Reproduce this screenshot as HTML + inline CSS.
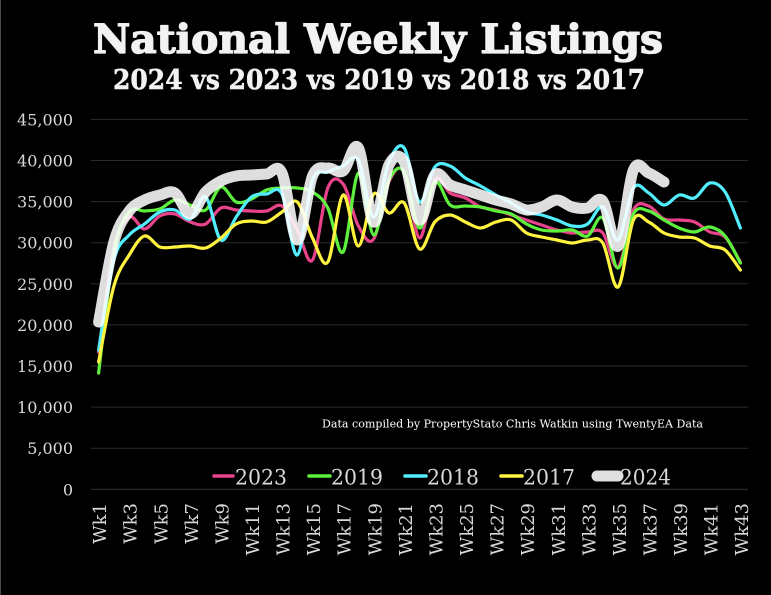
<!DOCTYPE html>
<html>
<head>
<meta charset="utf-8">
<style>
  html,body{margin:0;padding:0;background:#000;}
  body{width:771px;height:595px;overflow:hidden;}
  svg{display:block;}
  .tick{font-family:"DejaVu Serif","Liberation Serif",serif;font-size:16px;fill:#d9d9d9;}
  .xl{font-family:"DejaVu Serif","Liberation Serif",serif;font-size:18px;fill:#d9d9d9;}
  .lg{font-family:"DejaVu Serif","Liberation Serif",serif;font-size:21px;fill:#d9d9d9;}
</style>
</head>
<body>
<svg id="chart" width="771" height="595" viewBox="0 0 771 595" xmlns="http://www.w3.org/2000/svg">
  <rect x="0" y="0" width="771" height="595" fill="#000"/>
  <line x1="0.5" y1="0" x2="0.5" y2="595" stroke="#4a4a4a" stroke-width="1"/>

  <!-- Title -->
  <text x="93" y="53" textLength="570" lengthAdjust="spacingAndGlyphs" font-family="'DejaVu Serif','Liberation Serif',serif" font-weight="bold" font-size="40" fill="#f2f2f2" stroke="#f2f2f2" stroke-width="1.3" stroke-linejoin="round">National Weekly Listings</text>
  <text x="113" y="89" textLength="532" lengthAdjust="spacingAndGlyphs" font-family="'DejaVu Serif','Liberation Serif',serif" font-weight="bold" font-size="27" fill="#f2f2f2" stroke="#f2f2f2" stroke-width="0.5" stroke-linejoin="round">2024 vs 2023 vs 2019 vs 2018 vs 2017</text>

  <!-- Gridlines -->
  <g stroke="#2b2b2b" stroke-width="1">
    <line x1="91" x2="748" y1="119.4" y2="119.4"/>
    <line x1="91" x2="748" y1="160.5" y2="160.5"/>
    <line x1="91" x2="748" y1="201.6" y2="201.6"/>
    <line x1="91" x2="748" y1="242.7" y2="242.7"/>
    <line x1="91" x2="748" y1="283.8" y2="283.8"/>
    <line x1="91" x2="748" y1="324.9" y2="324.9"/>
    <line x1="91" x2="748" y1="366.0" y2="366.0"/>
    <line x1="91" x2="748" y1="407.1" y2="407.1"/>
    <line x1="91" x2="748" y1="448.2" y2="448.2"/>
    <line x1="91" x2="748" y1="489.3" y2="489.3" stroke="#333"/>
  </g>

  <!-- Y tick labels -->
  <g class="tick" text-anchor="end">
    <text x="73" y="125.4">45,000</text>
    <text x="73" y="166.5">40,000</text>
    <text x="73" y="207.6">35,000</text>
    <text x="73" y="248.7">30,000</text>
    <text x="73" y="289.8">25,000</text>
    <text x="73" y="330.9">20,000</text>
    <text x="73" y="372.0">15,000</text>
    <text x="73" y="413.1">10,000</text>
    <text x="73" y="454.2">5,000</text>
    <text x="73" y="495.3">0</text>
  </g>

  <!-- X labels -->
  <g class="xl" text-anchor="end">
    <text transform="translate(106.1,503) rotate(-90)">Wk1</text>
    <text transform="translate(136.7,503) rotate(-90)">Wk3</text>
    <text transform="translate(167.3,503) rotate(-90)">Wk5</text>
    <text transform="translate(197.8,503) rotate(-90)">Wk7</text>
    <text transform="translate(228.4,503) rotate(-90)">Wk9</text>
    <text transform="translate(259.0,503) rotate(-90)">Wk11</text>
    <text transform="translate(289.6,503) rotate(-90)">Wk13</text>
    <text transform="translate(320.1,503) rotate(-90)">Wk15</text>
    <text transform="translate(350.7,503) rotate(-90)">Wk17</text>
    <text transform="translate(381.3,503) rotate(-90)">Wk19</text>
    <text transform="translate(411.9,503) rotate(-90)">Wk21</text>
    <text transform="translate(442.5,503) rotate(-90)">Wk23</text>
    <text transform="translate(473.0,503) rotate(-90)">Wk25</text>
    <text transform="translate(503.6,503) rotate(-90)">Wk27</text>
    <text transform="translate(534.2,503) rotate(-90)">Wk29</text>
    <text transform="translate(564.8,503) rotate(-90)">Wk31</text>
    <text transform="translate(595.3,503) rotate(-90)">Wk33</text>
    <text transform="translate(625.9,503) rotate(-90)">Wk35</text>
    <text transform="translate(656.5,503) rotate(-90)">Wk37</text>
    <text transform="translate(687.1,503) rotate(-90)">Wk39</text>
    <text transform="translate(717.6,503) rotate(-90)">Wk41</text>
    <text transform="translate(748.2,503) rotate(-90)">Wk43</text>
  </g>

  <!-- Series -->
  <g fill="none" stroke-linecap="round" stroke-linejoin="round">
    <path id="s2023" stroke="#e8438a" stroke-width="3.2"/>
    <path id="s2019" stroke="#5df03c" stroke-width="3.2"/>
    <path id="s2018" stroke="#52eeff" stroke-width="3.2"/>
    <path id="s2017" stroke="#fff33f" stroke-width="3.2"/>
    <path id="s2024" stroke="#ffffff" stroke-opacity="0.87" stroke-width="11"/>
  </g>

  <!-- Source note -->
  <text x="322" y="427.5" textLength="381" lengthAdjust="spacingAndGlyphs" font-family="'DejaVu Serif','Liberation Serif',serif" font-size="11.5" fill="#ffffff">Data compiled by PropertyStato Chris Watkin using TwentyEA Data</text>

  <!-- Legend -->
  <g>
    <line x1="214" y1="476" x2="233" y2="476" stroke="#e8438a" stroke-width="3.6" stroke-linecap="round"/>
    <text class="lg" x="235" y="484.3" textLength="52" lengthAdjust="spacingAndGlyphs">2023</text>
    <line x1="309" y1="476" x2="330" y2="476" stroke="#5df03c" stroke-width="3.6" stroke-linecap="round"/>
    <text class="lg" x="331" y="484.3" textLength="52" lengthAdjust="spacingAndGlyphs">2019</text>
    <line x1="405" y1="476" x2="426" y2="476" stroke="#52eeff" stroke-width="3.6" stroke-linecap="round"/>
    <text class="lg" x="427" y="484.3" textLength="52" lengthAdjust="spacingAndGlyphs">2018</text>
    <line x1="501" y1="476" x2="522" y2="476" stroke="#fff33f" stroke-width="3.6" stroke-linecap="round"/>
    <text class="lg" x="523" y="484.3" textLength="52" lengthAdjust="spacingAndGlyphs">2017</text>
    <line x1="597" y1="476" x2="618" y2="476" stroke="#e0e0e0" stroke-width="11" stroke-linecap="round"/>
    <text class="lg" x="620" y="484.3" textLength="51" lengthAdjust="spacingAndGlyphs">2024</text>
  </g>
</svg>
<script>
(function(){
  var W = 657/43, X0 = 91;
  var data = {
    s2024:[322,242,211,200,195,193,214,192,181,176,175,174,173,240,176,168,171,148,222,165,162,220,175,185,190,195,200,204,210,207,200,207,208,201,246,170,173,182],
    s2023:[352,248,217,229,216,214,222,224,208,210,211,211,206,230,260,188,184,226,239,182,172,238,180,193,198,207,210,215,220,225,230,233,232,233,267,210,206,219,220,222,232,237,262],
    s2019:[373,252,212,211,209,200,205,210,187,202,199,190,188,188,192,208,252,173,235,180,172,228,182,205,206,207,211,214,224,230,231,230,236,218,268,214,211,220,228,232,227,236,263],
    s2018:[350,260,235,224,212,210,219,197,240,217,197,194,194,255,180,172,166,160,217,162,148,202,167,166,178,186,195,203,212,215,220,226,224,207,240,188,193,205,195,198,183,192,228],
    s2017:[362,286,255,236,247,247,246,248,238,224,221,222,212,202,238,262,195,246,194,213,203,249,222,215,222,228,222,220,233,237,240,243,240,243,287,220,222,233,237,238,246,250,270]
  };
  function f(n){return n.toFixed(1);}
  function build(ys){
    var p = ys.map(function(y,i){return [X0 + W*(i+0.5), y];});
    var d = 'M'+f(p[0][0])+','+f(p[0][1]);
    for (var i=0;i<p.length-1;i++){
      var p0 = p[i-1]||p[i], p1=p[i], p2=p[i+1], p3=p[i+2]||p[i+1];
      var c1x = p1[0]+(p2[0]-p0[0])/6, c1y = p1[1]+(p2[1]-p0[1])/6;
      var c2x = p2[0]-(p3[0]-p1[0])/6, c2y = p2[1]-(p3[1]-p1[1])/6;
      d += 'C'+f(c1x)+','+f(c1y)+' '+f(c2x)+','+f(c2y)+' '+f(p2[0])+','+f(p2[1]);
    }
    return d;
  }
  for (var k in data){
    document.getElementById(k).setAttribute('d', build(data[k]));
  }
})();
</script>
</body>
</html>
